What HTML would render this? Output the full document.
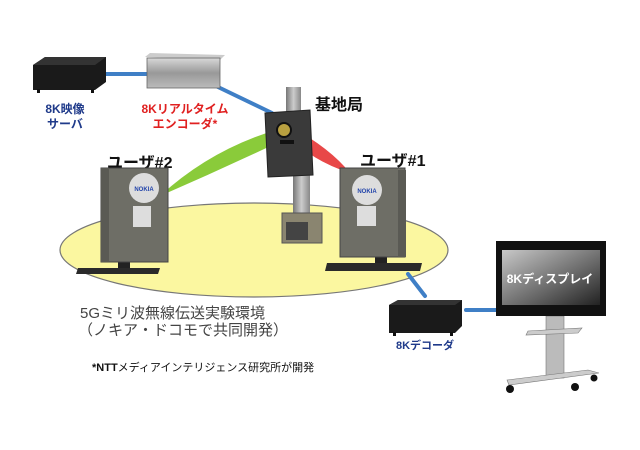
<!DOCTYPE html>
<html><head><meta charset="utf-8"><style>
html,body{margin:0;padding:0;background:#fff;width:640px;height:450px;overflow:hidden}
svg{display:block}
text{font-family:"Liberation Sans","Noto Sans CJK JP",sans-serif}
</style></head><body>
<svg width="640" height="450" viewBox="0 0 640 450" xmlns="http://www.w3.org/2000/svg">
<defs>
<linearGradient id="scr" x1="0" y1="0" x2="1" y2="1"><stop offset="0" stop-color="#c8c8c8"/><stop offset="0.6" stop-color="#666"/><stop offset="1" stop-color="#222"/></linearGradient>
<linearGradient id="silver" x1="0" y1="0" x2="0" y2="1"><stop offset="0" stop-color="#d8d8d8"/><stop offset="0.5" stop-color="#999"/><stop offset="1" stop-color="#bbb"/></linearGradient>
<linearGradient id="pole" x1="0" y1="0" x2="1" y2="0"><stop offset="0" stop-color="#777"/><stop offset="0.5" stop-color="#ccc"/><stop offset="1" stop-color="#888"/></linearGradient>
</defs>
<ellipse cx="254" cy="250" rx="194" ry="47" fill="#fbf7a0" stroke="#777" stroke-width="1.2"/>
<g stroke="#3f7fc6" stroke-width="4" stroke-linecap="round">
<line x1="106" y1="74" x2="148" y2="74"/>
<line x1="218" y1="87" x2="272" y2="113"/>
<line x1="408" y1="274" x2="425" y2="296"/>
<line x1="466" y1="310" x2="497" y2="310"/>
</g>
<polygon points="33,65 45,57 106,57 106,82 95,90 33,90" fill="#1a1a1a"/>
<polygon points="33,65 45,57 106,57 95,65" fill="#333"/>
<rect x="37" y="89" width="3" height="4" fill="#111"/><rect x="91" y="89" width="3" height="4" fill="#111"/>
<polygon points="145,57 150,53 225,55 220,60" fill="#ccc"/>
<rect x="147" y="58" width="73" height="30" fill="url(#silver)" stroke="#666" stroke-width="0.8"/>
<g font-weight="bold" font-size="12" text-anchor="middle">
<text x="65" y="113" fill="#1f3a8a">8K映像</text>
<text x="65" y="128" fill="#1f3a8a">サーバ</text>
<text x="185" y="113" fill="#e02020">8Kリアルタイム</text>
<text x="185" y="128" fill="#e02020">エンコーダ*</text>
</g>
<path d="M276,130 Q210,150 160,196 Q220,170 279,142 Z" fill="#8acb3a"/>
<path d="M291,127 Q330,148 350,173 Q310,160 290,136 Z" fill="#e84848"/>
<rect x="286" y="87" width="15" height="26" fill="url(#pole)"/>
<rect x="293" y="175" width="17" height="40" fill="url(#pole)"/>
<rect x="282" y="213" width="40" height="30" fill="#8a8570" stroke="#555"/>
<rect x="286" y="222" width="22" height="18" fill="#444"/>
<polygon points="265,113 310,110 313,175 268,177" fill="#3a3a3a" stroke="#222"/>
<circle cx="284" cy="130" r="7" fill="#b8a040" stroke="#111" stroke-width="2"/>
<rect x="280" y="140" width="14" height="4" fill="#111"/>
<text x="315" y="110" font-size="16" font-weight="bold" fill="#111">基地局</text>
<text x="107" y="168" font-size="16" font-weight="bold" fill="#111">ユーザ#2</text>
<rect x="118" y="262" width="12" height="8" fill="#222"/>
<polygon points="78,268 160,268 158,274 76,274" fill="#2a2a2a"/>
<rect x="101" y="168" width="67" height="94" fill="#6e6e66" stroke="#444"/>
<rect x="101" y="168" width="8" height="94" fill="#5a5a54"/>
<circle cx="144" cy="188" r="15" fill="#ddd"/>
<text x="144" y="191" font-size="6" text-anchor="middle" fill="#2244aa" font-weight="bold">NOKIA</text>
<rect x="133" y="206" width="18" height="21" fill="#ddd"/>
<text x="360" y="166" font-size="16" font-weight="bold" fill="#111">ユーザ#1</text>
<rect x="375" y="257" width="12" height="8" fill="#222"/>
<polygon points="327,263 422,263 420,271 325,271" fill="#2a2a2a"/>
<rect x="340" y="168" width="65" height="89" fill="#6e6e66" stroke="#444"/>
<rect x="398" y="170" width="8" height="87" fill="#5a5a54"/>
<circle cx="367" cy="190" r="15" fill="#ddd"/>
<text x="367" y="193" font-size="6" text-anchor="middle" fill="#2244aa" font-weight="bold">NOKIA</text>
<rect x="357" y="206" width="19" height="20" fill="#ddd"/>
<polygon points="389,305 398,300 462,300 462,326 455,333 389,333" fill="#1a1a1a"/>
<polygon points="389,305 398,300 462,300 455,305" fill="#333"/>
<rect x="393" y="332" width="3" height="4" fill="#111"/><rect x="450" y="332" width="3" height="4" fill="#111"/>
<text x="425" y="349" font-size="11" font-weight="bold" fill="#1f3a8a" text-anchor="middle">8Kデコーダ</text>
<rect x="546" y="316" width="18" height="62" fill="#bbb" stroke="#777" stroke-width="0.6"/>
<polygon points="528,331 582,328 578,333 526,335" fill="#ccc" stroke="#777" stroke-width="0.6"/>
<polygon points="507,380 588,370 599,373 509,385" fill="#ccc" stroke="#777" stroke-width="0.6"/>
<circle cx="510" cy="389" r="4" fill="#111"/><circle cx="575" cy="387" r="4" fill="#111"/><circle cx="594" cy="378" r="3.5" fill="#111"/>
<rect x="496" y="241" width="110" height="75" fill="#111"/>
<rect x="502" y="250" width="98" height="55" fill="url(#scr)"/>
<text x="550" y="283" font-size="12" font-weight="bold" fill="#fff" text-anchor="middle">8Kディスプレイ</text>
<text x="80" y="318" font-size="15" fill="#444">5Gミリ波無線伝送実験環境</text>
<text x="78" y="335" font-size="15" fill="#444">（ノキア・ドコモで共同開発）</text>
<text x="92" y="371" font-size="11" fill="#111"><tspan font-weight="bold">*NTT</tspan>メディアインテリジェンス研究所が開発</text>
</svg>
</body></html>
